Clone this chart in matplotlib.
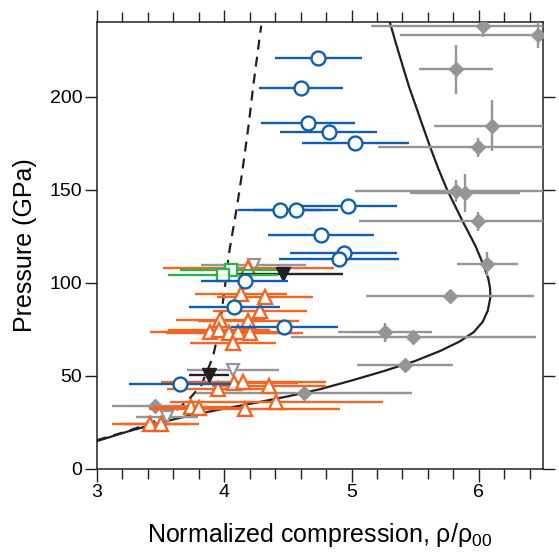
import numpy as np
import matplotlib
matplotlib.use("Agg")
import matplotlib.pyplot as plt
from matplotlib.ticker import MultipleLocator

plt.rcParams['font.family'] = ['Liberation Sans', 'DejaVu Sans']
plt.rcParams['mathtext.fontset'] = 'custom'
plt.rcParams['mathtext.rm'] = 'Liberation Sans'
plt.rcParams['mathtext.it'] = 'Liberation Sans:italic'

# solid model curve
curve_x = [3.00, 3.25, 3.50, 3.75, 4.00, 4.25, 4.50, 4.75, 5.00, 5.25, 5.50, 5.70,
           5.85, 5.96, 6.03, 6.07, 6.09, 6.088, 6.075, 6.05, 6.015, 5.975, 5.93,
           5.88, 5.815, 5.75, 5.68, 5.615, 5.56, 5.505, 5.455, 5.41, 5.355, 5.30]
curve_p = [15.0, 20.3, 25.0, 29.0, 32.4, 35.6, 39.0, 42.8, 47.5, 52.5, 58.0, 63.5,
           68.5, 73.5, 79.0, 85.0, 92.0, 97.0, 102.0, 107.0, 113.0, 119.5, 125.5,
           132.0, 141.0, 150.0, 161.5, 173.3, 184.0, 194.8, 204.5, 214.5, 227.0, 240.0]

# dashed curve
dash_x = [3.00, 3.20, 3.40, 3.60, 3.73, 3.82, 3.91, 3.96, 3.99, 4.04, 4.10, 4.14, 4.19, 4.23, 4.29]
dash_p = [15.5, 19.5, 24.0, 30.0, 38.0, 45.0, 60.0, 75.0, 90.0, 117.0, 141.0, 159.0, 184.0, 207.0, 238.0]

# gray diamonds
dia_x = [6.035, 6.467, 5.82, 6.10, 5.995, 5.82, 5.89, 5.995, 6.066, 5.773, 5.262, 5.485, 5.42, 4.626, 3.456]
dia_p = [237.8, 232.8, 214.5, 184.4, 172.7, 149.1, 148.2, 133.0, 110.2, 93.0, 73.3, 71.1, 55.6, 40.7, 33.9]
dia_xerr = [0.88, 1.09, 0.29, 0.45, 0.79, 0.79, 0.43, 0.94, 0.24, 0.66, 0.37, 0.96, 0.38, 0.85, 0.34]
dia_perr = [6, 7, 13, 13.5, 5, 6, 10, 5, 6.5, 0, 5, 0, 0, 0, 0]

# gray open inverted triangles
gtri_x = [4.23, 4.07, 3.55]
gtri_p = [109.3, 53.2, 28.1]
gtri_xerr = [0.41, 0.36, 0.24]

# orange open triangles
otri_x = [4.19, 4.13, 4.32, 4.28, 3.97, 4.19, 3.89, 3.96, 4.04, 4.11, 4.20, 4.07,
          3.95, 4.08, 4.15, 4.35, 3.74, 3.80, 4.16, 4.41, 3.42, 3.50]
otri_p = [107.9, 93.9, 92.6, 84.6, 80.1, 79.6, 73.8, 74.7, 73.0, 73.8, 73.0, 67.6,
          42.8, 46.0, 46.9, 44.6, 33.2, 32.6, 32.1, 35.9, 24.2, 24.2]
otri_xerr = [0.67, 0.36, 0.38, 0.37, 0.35, 0.40, 0.47, 0.40, 0.50, 0.40, 0.42, 0.34,
             0.40, 0.50, 0.65, 0.45, 0.30, 0.35, 0.75, 0.84, 0.30, 0.30]

# black filled inverted triangles
btri_x = [4.46, 3.88]
btri_p = [104.8, 50.5]
btri_xerr = [0.47, 0.16]

# green squares
sq_x = [4.05, 3.99]
sq_p = [107.0, 104.0]
sq_xerr = [0.40, 0.43]

# blue circles
circ_x = [4.74, 4.60, 4.66, 4.82, 5.03, 4.44, 4.56, 4.97, 4.76, 4.94, 4.90, 4.16, 4.08, 4.47, 3.65]
circ_p = [220.8, 204.7, 185.9, 181.0, 175.1, 138.9, 138.9, 141.2, 125.8, 116.0, 112.9, 101.1, 86.9, 76.5, 45.5]
circ_xerr = [0.34, 0.33, 0.37, 0.38, 0.42, 0.33, 0.33, 0.39, 0.42, 0.42, 0.47, 0.34, 0.36, 0.42, 0.40]

gray = '#939598'
orange = '#f26522'
blue = '#0f5fb0'
green = '#2db34a'
dark = '#231f20'

fig = plt.figure(figsize=(5.59, 5.57), dpi=100)
ax = fig.add_axes([0.1735, 0.158, 0.797, 0.8025])

ax.plot(curve_x, curve_p, color=dark, lw=1.6, zorder=2)
ax.plot(dash_x, dash_p, color=dark, lw=1.6, ls=(0, (4.5, 3.2)), zorder=2)

ax.errorbar(dia_x, dia_p, xerr=dia_xerr, yerr=dia_perr, fmt='D', ms=7,
            color=gray, mec=gray, mfc=gray, elinewidth=1.7, capsize=0, zorder=3)
ax.errorbar(gtri_x, gtri_p, xerr=gtri_xerr, fmt='v', ms=8, color=gray,
            mfc='white', mec=gray, mew=1.6, elinewidth=1.7, capsize=0, zorder=3)
ax.errorbar(otri_x, otri_p, xerr=otri_xerr, fmt='^', ms=10, color=orange,
            mfc='white', mec=orange, mew=1.7, elinewidth=1.7, capsize=0, zorder=4)
ax.errorbar(btri_x, btri_p, xerr=btri_xerr, fmt='v', ms=10, color=dark,
            mfc=dark, mec=dark, elinewidth=1.7, capsize=0, zorder=5)
ax.errorbar(sq_x, sq_p, xerr=sq_xerr, fmt='s', ms=8, color=green,
            mfc='white', mec=green, mew=1.7, elinewidth=1.7, capsize=0, zorder=5)
ax.errorbar(circ_x, circ_p, xerr=circ_xerr, fmt='o', ms=10, color=blue,
            mfc='white', mec=blue, mew=1.7, elinewidth=1.7, capsize=0, zorder=6)

ax.set_xlim(3, 6.5)
ax.set_ylim(0, 240)
ax.xaxis.set_major_locator(MultipleLocator(1))
ax.xaxis.set_minor_locator(MultipleLocator(0.2))
ax.yaxis.set_major_locator(MultipleLocator(50))

ax.tick_params(axis='x', which='major', direction='out', length=9, width=1,
               top=True, bottom=True, labelsize=14, pad=2, color=dark)
ax.tick_params(axis='x', which='minor', direction='out', length=7, width=1,
               top=True, bottom=True, color=dark)
ax.tick_params(axis='y', which='major', direction='out', length=8.5, width=1,
               left=True, right=True, labelsize=14, pad=2, color=dark)
for sp in ax.spines.values():
    sp.set_color(dark)
    sp.set_linewidth(1.1)

ax.set_xlabel(r'Normalized compression, ρ/ρ$_{00}$', fontsize=18, labelpad=14)
ax.set_ylabel('Pressure (GPa)', fontsize=18, labelpad=9)

fig.savefig('out.png', dpi=100)
